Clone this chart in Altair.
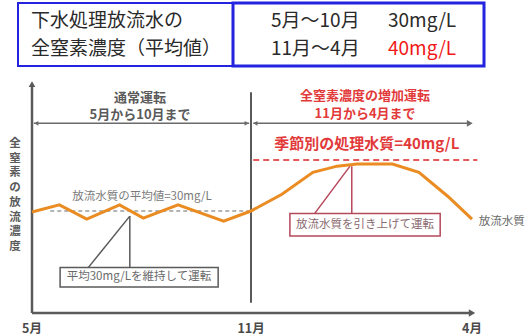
import altair as alt
import pandas as pd

# Total nitrogen of discharged treated water over one operating year.
# Month index: 0 = May, 6 = November, 11 = April.
month_pos = [0.0, 0.75, 1.5, 2.4, 3.05, 4.0, 5.25, 6.0, 6.7, 7.4, 7.95, 8.4, 9.2, 9.8, 10.45, 11.0]
nitrogen = [29.8, 31.2, 28.4, 31.2, 28.6, 31.2, 28.0, 30.0, 33.3, 37.6, 38.8, 39.2, 39.2, 37.6, 32.9, 28.4]

tick_months = [0, 6, 11]
tick_labels = ["5月", "11月", "4月"]

summer_avg = 30      # mg/L, May - October
winter_target = 40   # mg/L, November - April

table_left = ["下水処理放流水の", "全窒素濃度（平均値）"]
table_periods = ["5月～10月", "11月～4月"]
table_values = ["30mg/L", "40mg/L"]

y_title = "全窒素の放流濃度"

FONT = "Noto Sans CJK JP"
ORANGE = "#ea8c22"
GREY = "#5a5a5a"
RED = "#e23a3a"
BLUE = "#2323e0"
MAROON = "#b5485a"

X = alt.Scale(domain=[0, 6, 11], range=[32, 251, 472], nice=False, zero=False)
Y = alt.Scale(domain=[10, 55.5], range=[313, 81], nice=False, zero=False)

one = pd.DataFrame({"k": [0]})


def xs(field):
    return alt.X(field, type="quantitative", scale=X, axis=None)


def ys(field):
    return alt.Y(field, type="quantitative", scale=Y, axis=None)


def seg(m1, v1, m2, v2, color, width=1.5, dash=None):
    df = pd.DataFrame({"m": [m1], "v": [v1], "m2": [m2], "v2": [v2]})
    kw = dict(color=color, strokeWidth=width)
    if dash:
        kw["strokeDash"] = dash
    return alt.Chart(df).mark_rule(**kw).encode(
        x=xs("m"), y=ys("v"), x2="m2", y2="v2")


def head(m, v, shape, size, color):
    df = pd.DataFrame({"m": [m], "v": [v]})
    return alt.Chart(df).mark_point(shape=shape, size=size, filled=True,
                                    color=color, opacity=1).encode(x=xs("m"), y=ys("v"))


def dtext(t, m, v, **kw):
    df = pd.DataFrame({"m": [m], "v": [v], "t": [t]})
    kw.setdefault("font", FONT)
    return alt.Chart(df).mark_text(**kw).encode(x=xs("m"), y=ys("v"), text="t:N")


def ptext(t, x, y, **kw):
    kw.setdefault("font", FONT)
    return alt.Chart(one).mark_text(**kw).encode(
        x=alt.value(x), y=alt.value(y), text=alt.value(t))


def box(m1, v1, m2, v2, stroke, width=1.5):
    df = pd.DataFrame({"m": [m1], "v": [v1], "m2": [m2], "v2": [v2]})
    return alt.Chart(df).mark_rect(fill="white", stroke=stroke, strokeWidth=width).encode(
        x=xs("m"), y=ys("v"), x2="m2", y2="v2")


layers = []

# --- summary table ---
layers.append(alt.Chart(one).mark_rect(fill="white", stroke=BLUE, strokeWidth=2).encode(
    x=alt.value(18), x2=alt.value(484), y=alt.value(3), y2=alt.value(66)))
layers.append(alt.Chart(one).mark_rect(fill="white", stroke=BLUE, strokeWidth=3).encode(
    x=alt.value(233), x2=alt.value(484), y=alt.value(3), y2=alt.value(66)))
for i, (a, b, c) in enumerate(zip(table_left, table_periods, table_values)):
    yy = 21 + 28 * i
    layers.append(ptext(a, 31, yy, fontSize=19, color="#2a2a2a", align="left", baseline="middle"))
    layers.append(ptext(b, 271, yy, fontSize=19, color="#2a2a2a", align="left", baseline="middle"))
    layers.append(ptext(c, 388, yy, fontSize=19, color=("#2a2a2a" if i == 0 else "#f01818"),
                        align="left", baseline="middle"))

# --- reference lines ---
layers.append(seg(0.5, summer_avg, 6.0, summer_avg, "#6a6a6a", 1.2, [4, 3]))
layers.append(seg(6.05, winter_target, 11.12, winter_target, "#e25a5a", 2, [6, 4]))

# --- axes and divider ---
layers.append(seg(0, 10, 0, 54.6, GREY, 2.5))
layers.append(head(0, 54.9, "triangle-up", 45, GREY))
layers.append(seg(0, 10, 10.98, 10, GREY, 2.5))
layers.append(head(11.0, 10, "triangle-right", 55, GREY))
layers.append(seg(6, 12.0, 6, 53.3, GREY, 2))

# --- period arrows ---
arrow_v = 47.2
layers.append(seg(0.05, arrow_v, 5.95, arrow_v, "#6a6a6a", 1.5))
layers.append(head(0.12, arrow_v, "triangle-left", 22, "#6a6a6a"))
layers.append(head(5.88, arrow_v, "triangle-right", 22, "#6a6a6a"))
layers.append(seg(6.05, arrow_v, 10.95, arrow_v, "#6a6a6a", 1.5))
layers.append(head(6.1, arrow_v, "triangle-left", 22, "#6a6a6a"))
layers.append(head(10.95, arrow_v, "triangle-right", 45, "#6a6a6a"))

layers.append(dtext("通常運転", 2.96, 52.2, fontSize=13, color=GREY, fontWeight="bold"))
layers.append(dtext("5月から10月まで", 2.96, 48.85, fontSize=13, color=GREY, fontWeight="bold"))
layers.append(dtext("全窒素濃度の増加運転", 8.58, 52.5, fontSize=13, color=RED, fontWeight="bold"))
layers.append(dtext("11月から4月まで", 8.58, 49.0, fontSize=13, color=RED, fontWeight="bold"))
layers.append(dtext("季節別の処理水質=40mg/L", 8.62, 43.2, fontSize=15, color=RED, fontWeight="bold"))

# --- labels on the reference lines ---
layers.append(dtext("放流水質の平均値=30mg/L", 1.1, 32.75, fontSize=11.5, color="#7a7a7a", align="left"))

# --- callout pointers and boxes ---
layers.append(seg(1.53, 18.8, 2.68, 29.0, GREY, 1.5))
layers.append(seg(2.68, 29.0, 2.68, 18.8, GREY, 1.5))
layers.append(box(0.77, 18.9, 5.1, 15.1, GREY))
layers.append(dtext("平均30mg/Lを維持して運転", 2.93, 17.0, fontSize=11.5, color="#6a6a6a"))

layers.append(seg(7.43, 29.4, 8.24, 38.8, MAROON, 1.5))
layers.append(seg(8.28, 38.8, 8.28, 29.4, MAROON, 1.5))
layers.append(box(6.88, 29.5, 10.28, 25.1, MAROON))
layers.append(dtext("放流水質を引き上げて運転", 8.58, 27.3, fontSize=11.5, color="#8a6a70"))

# --- concentration line ---
series = pd.DataFrame({"month": month_pos, "tn": nitrogen})
layers.append(alt.Chart(series).mark_line(color=ORANGE, strokeWidth=3, strokeJoin="miter").encode(
    x=xs("month"), y=ys("tn"), order="month:Q"))
layers.append(dtext("放流水質", 11.15, 27.8, fontSize=11.5, color="#6a6a6a", align="left"))

# --- month labels ---
ticks = pd.DataFrame({"m": tick_months, "lab": tick_labels, "v": [6.9] * 3})
layers.append(alt.Chart(ticks).mark_text(font=FONT, fontSize=12.5, fontWeight="bold", color="#4a4a4a").encode(
    x=xs("m"), y=ys("v"), text="lab:N"))

# --- vertical y-axis title, one character per line ---
layers.append(ptext("\n".join(y_title), 15, 138, fontSize=11.5, fontWeight="bold",
                    color=GREY, baseline="top", lineBreak="\n", lineHeight=14.7))

chart = alt.layer(*layers).properties(
    width=529, height=336, padding=0,
    autosize=alt.AutoSizeParams(type="none"),
    background="white",
).configure_view(stroke=None)

chart.save("out.html", embed_options={"renderer": "svg", "actions": False})
